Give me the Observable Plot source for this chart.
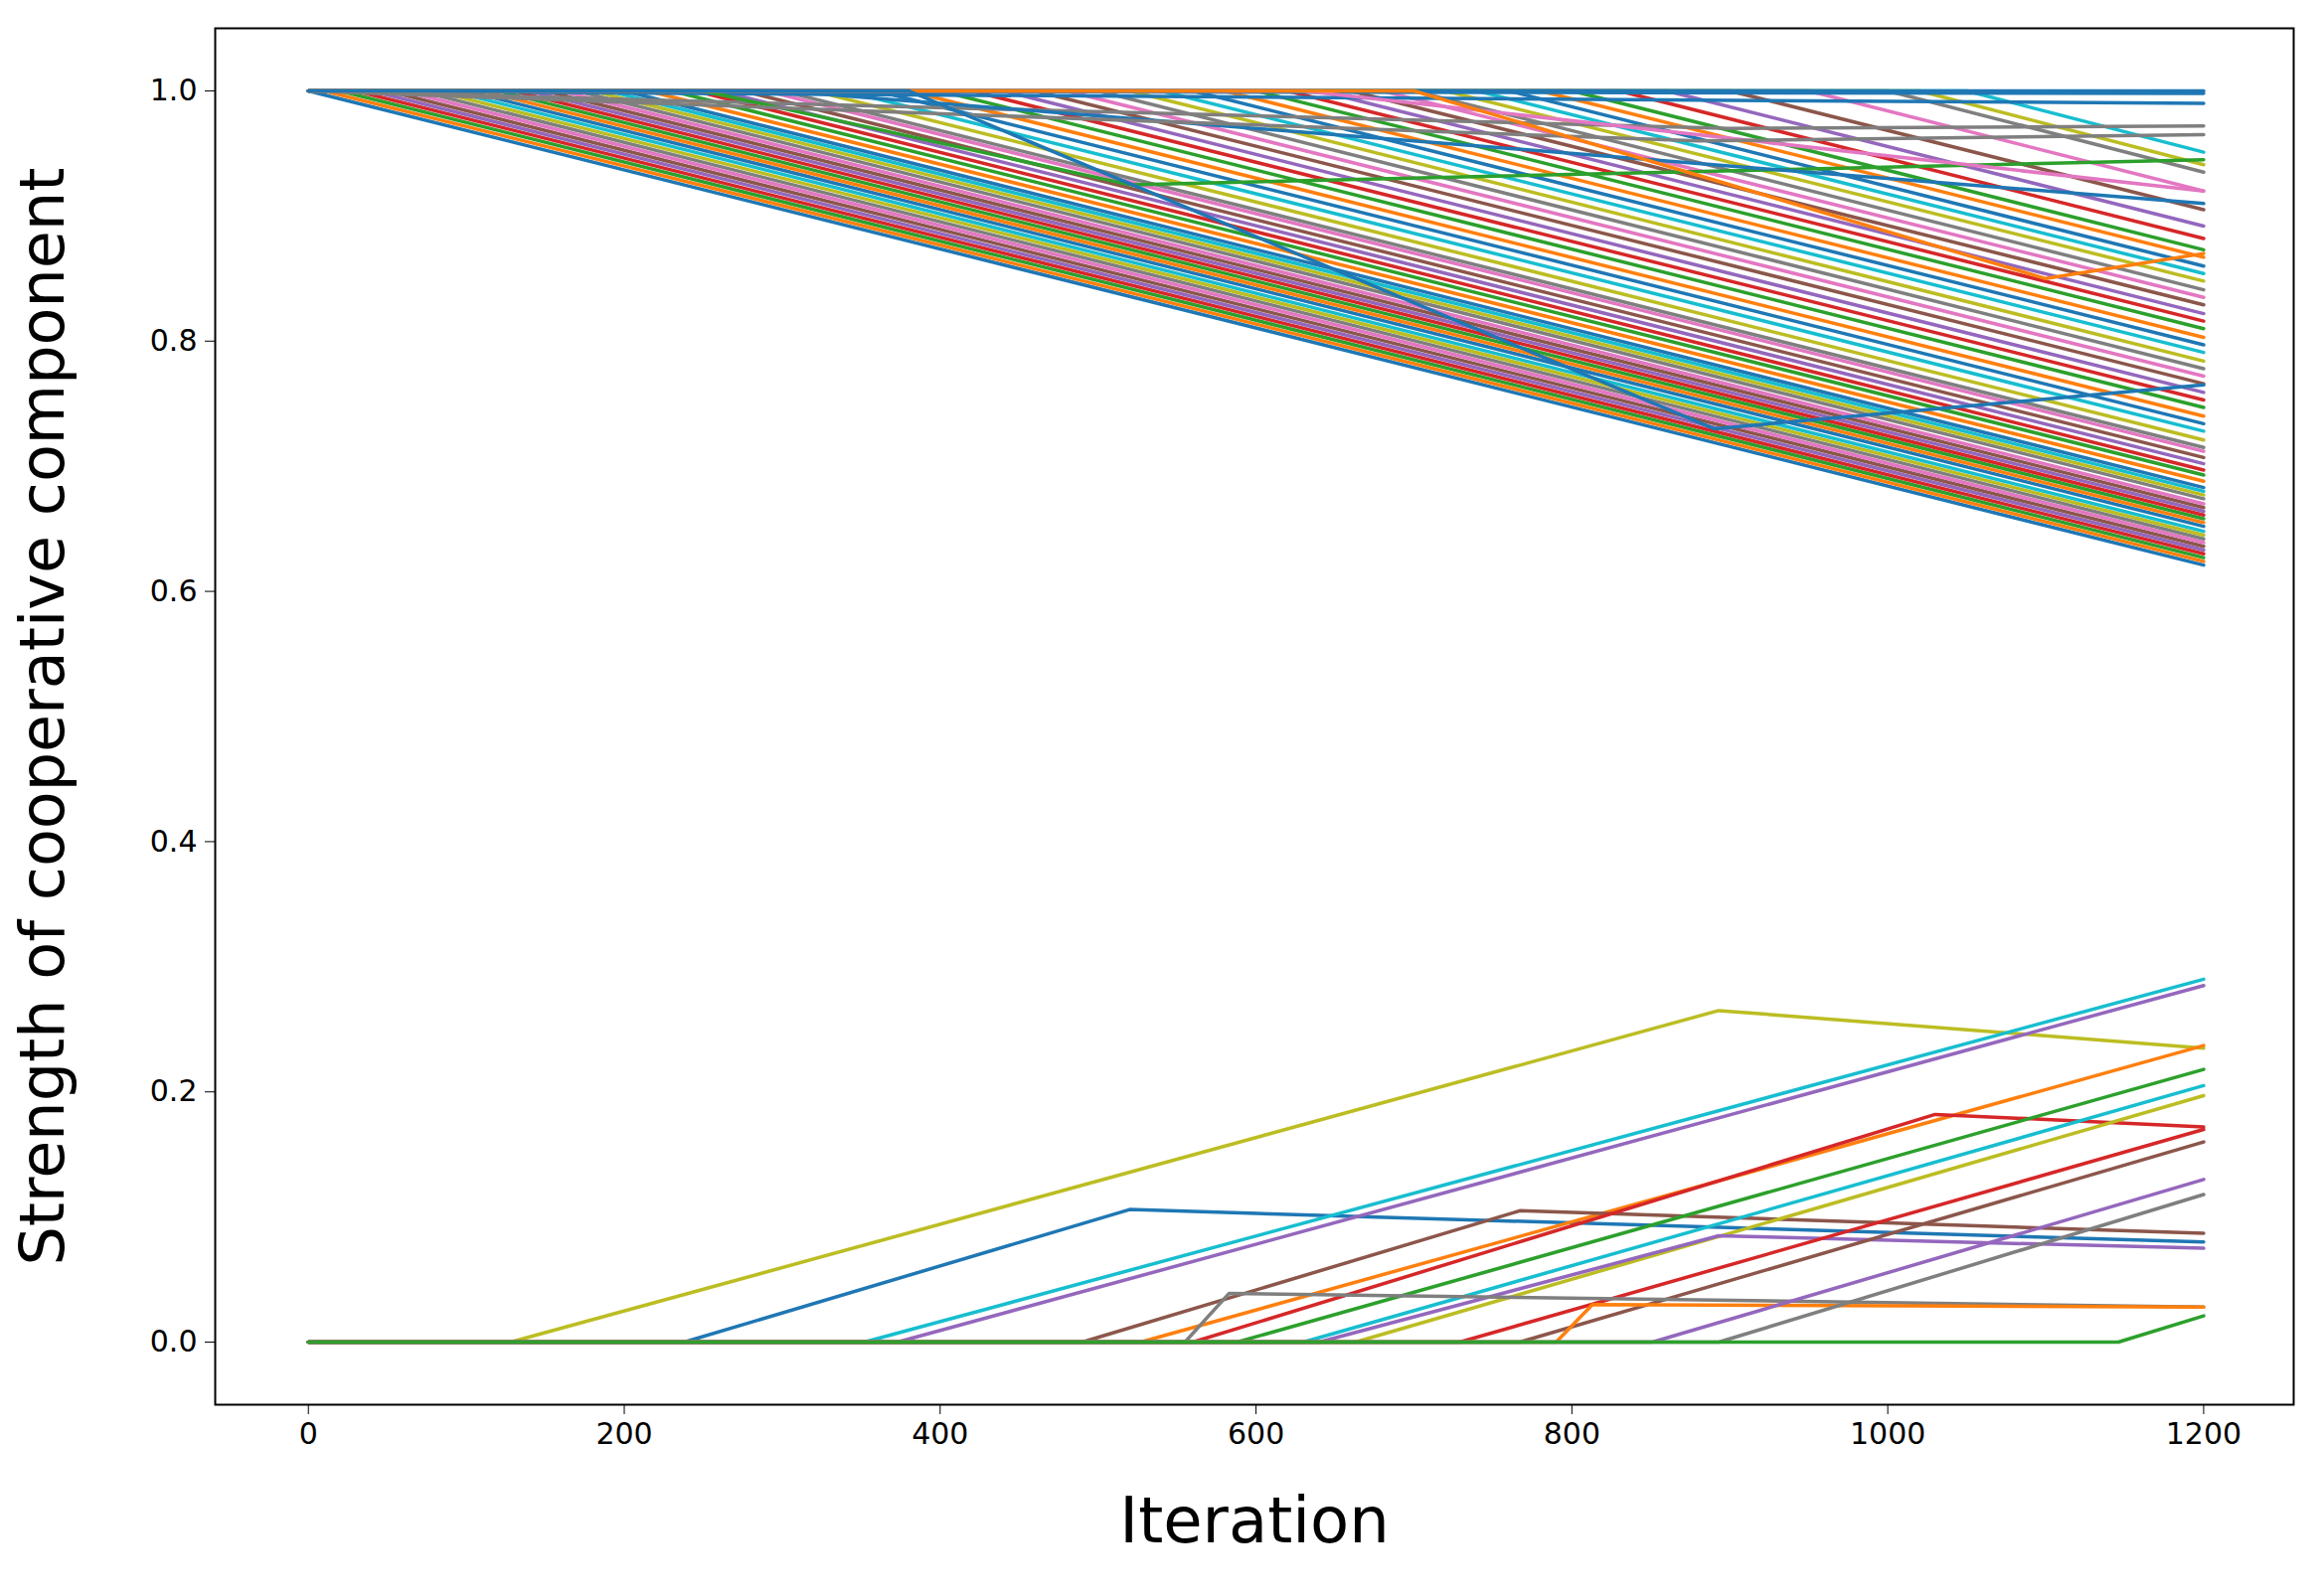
<!DOCTYPE html>
<html><head><meta charset="utf-8">
<script src="https://cdn.jsdelivr.net/npm/d3@7"></script>
<script src="https://cdn.jsdelivr.net/npm/@observablehq/plot@0.6"></script>
<style>body{margin:0;background:#fff}</style>
</head><body><div id="chart"></div>
<script>
const palette = ["#1f77b4","#ff7f0e","#2ca02c","#d62728","#9467bd","#8c564b","#e377c2","#7f7f7f","#bcbd22","#17becf"];
// Upper group: flat at 1.0 until start iteration, then linear decline to end value at 1200
const topStarts = [0,10,20,30,40,50,60,70,80,90,100,110,120,130,140,150,160,170,180,190,200,215,230,245,260,275,290,300,320,340,360,380,400,420,440,460,480,500,520,540,560,580,600,620,640,660,680,700,720,740,760,780,800,830,860,900,950,1000,1020,1050];
const topEnds   = [0.621,0.624,0.627,0.63,0.633,0.636,0.639,0.642,0.645,0.648,0.652,0.655,0.658,0.661,0.664,0.667,0.67,0.674,0.677,0.68,0.683,0.688,0.693,0.697,0.702,0.707,0.712,0.715,0.721,0.728,0.734,0.74,0.747,0.753,0.759,0.766,0.772,0.778,0.784,0.791,0.797,0.803,0.81,0.816,0.822,0.829,0.835,0.841,0.848,0.854,0.86,0.867,0.873,0.882,0.892,0.905,0.92,0.935,0.941,0.951];
// Upper group: special series (vertices as iteration / value pairs)
const topSpecialIters = [[0,1200],[0,10,1200],[0,1200],[0,900,1200],[0,250,520,1200],[0,300,1200],[0,630,1200],[0,880,1200],[0,700,1100,1200],[0,380,890,1200]];
const topSpecialVals  = [[1,1],[1,1,0.998],[1,0.99],[1,0.97,0.972],[1,1,0.925,0.945],[1,1,0.91],[1,1,0.92],[1,0.96,0.965],[1,1,0.85,0.87],[1,1,0.73,0.765]];
const topSpecialColors = [0,0,0,7,2,0,6,7,1,0];
// Lower group: flat at 0 until start, then rising (some with a peak)
const lowIters = [[0,128,893,1200],[0,238,520,1200],[0,352,1200],[0,373,1200],[0,527,1200],[0,490,767,1200],[0,560,1030,1200],[0,588,1200],[0,630,1200],[0,663,1200],[0,640,893,1200],[0,729,1200],[0,767,1200],[0,555,583,1200],[0,790,813,1200],[0,851,1200],[0,893,1200],[0,1146,1200]];
const lowVals  = [[0,0,0.265,0.235],[0,0,0.106,0.08],[0,0,0.29],[0,0,0.285],[0,0,0.237],[0,0,0.105,0.087],[0,0,0.182,0.172],[0,0,0.218],[0,0,0.205],[0,0,0.197],[0,0,0.085,0.075],[0,0,0.17],[0,0,0.16],[0,0,0.039,0.028],[0,0,0.03,0.028],[0,0,0.13],[0,0,0.118],[0,0,0.021]];
const lowColors = [8,0,9,4,1,5,3,2,9,8,4,3,5,7,1,4,7,2];

const rows = [];
let id = 0;
topStarts.forEach((s,i)=>{
  const c = palette[i%10];
  const xs = s===0 ? [0,1200] : [0,s,1200];
  const ys = s===0 ? [1,topEnds[i]] : [1,1,topEnds[i]];
  xs.forEach((x,k)=>rows.push({id,x,y:ys[k],c}));
  id++;
});
topSpecialIters.forEach((xs,i)=>{
  const c = palette[topSpecialColors[i]];
  xs.forEach((x,k)=>rows.push({id,x,y:topSpecialVals[i][k],c}));
  id++;
});
lowIters.forEach((xs,i)=>{
  const c = palette[lowColors[i]];
  xs.forEach((x,k)=>rows.push({id,x,y:lowVals[i][k],c}));
  id++;
});

const plot = Plot.plot({
  width: 2337, height: 1606,
  marginLeft: 216, marginRight: 30, marginTop: 28, marginBottom: 193,
  style: {fontFamily: "DejaVu Sans", fontSize: "30px", background: "#fff"},
  x: {domain: [-59, 1257]},
  y: {domain: [-0.05, 1.05]},
  marks: [
    Plot.line(rows, {x:"x", y:"y", z:"id", stroke:"c", strokeWidth:3.5}),
    Plot.frame({stroke:"#000", strokeWidth:2}),
    Plot.axisX({ticks:[0,200,400,600,800,1000,1200], tickFormat:d3.format("d"), tickSize:10, tickPadding:8, label:null, fontSize:30}),
    Plot.axisY({ticks:[0,0.2,0.4,0.6,0.8,1.0], tickFormat:d3.format(".1f"), tickSize:10, tickPadding:8, label:null, fontSize:30}),
    Plot.text(["Iteration"], {frameAnchor:"bottom", dy:138, fontSize:64, fill:"#000"}),
    Plot.text(["Strength of cooperative component"], {frameAnchor:"left", textAnchor:"middle", rotate:-90, dx:-172, fontSize:62, fill:"#000"})
  ]
});
document.getElementById("chart").append(plot);
</script></body></html>
